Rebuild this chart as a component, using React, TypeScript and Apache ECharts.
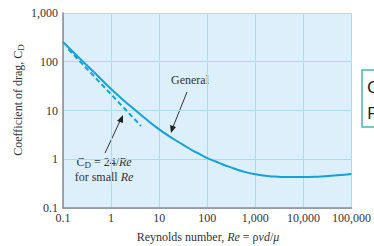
import React, { useEffect, useRef } from "react";
import * as echarts from "echarts";

const reValues = [0.1, 0.2, 0.5, 1, 2, 5, 10, 20, 30, 50, 70, 100, 150, 200, 300, 500, 1000, 2000, 5000, 10000, 20000, 50000, 100000];
const cdGeneral = [255, 130, 54, 27.5, 15, 7.0, 4.1, 2.6, 2.05, 1.5, 1.28, 1.05, 0.9, 0.8, 0.69, 0.58, 0.49, 0.45, 0.43, 0.43, 0.44, 0.47, 0.5];
const dashRe = [0.13, 4.2];
const dashCd = [180, 4.8];
const xTickLabels = ["0.1", "1", "10", "100", "1,000", "10,000", "100,000"];
const yTickLabels = ["0.1", "1", "10", "100", "1,000"];

const SERIF = "'Liberation Serif', 'DejaVu Serif', serif";
const BLUE = "#12a2dc";
const FS = 12;

export default function App() {
  const ref = useRef<HTMLDivElement>(null);
  useEffect(() => {
    if (!ref.current) return;
    const chart = echarts.init(ref.current, null, { renderer: "svg" });
    const idx = (v: number) => Math.round(Math.log10(v)) + 1;
    chart.setOption({
      animation: false,
      grid: {
        left: 63, top: 13, right: 20, bottom: 38,
        show: true, backgroundColor: "#ddeffb", borderWidth: 0,
      },
      xAxis: {
        type: "log", logBase: 10, min: 0.1, max: 100000,
        axisLine: { show: true, lineStyle: { color: "#8a8a8a", width: 1.5 } },
        axisTick: { show: false },
        axisLabel: {
          fontFamily: SERIF, fontSize: FS, color: "#333", margin: 4,
          formatter: (v: number) => xTickLabels[idx(v)] ?? "",
        },
        splitLine: { show: true, lineStyle: { color: "#acdaf2", width: 1 } },
      },
      yAxis: {
        type: "log", logBase: 10, min: 0.1, max: 1000,
        axisLine: { show: true, lineStyle: { color: "#8a8a8a", width: 1.5 } },
        axisTick: { show: false },
        axisLabel: {
          fontFamily: SERIF, fontSize: FS, color: "#333", margin: 5,
          formatter: (v: number) => yTickLabels[idx(v)] ?? "",
        },
        splitLine: { show: true, lineStyle: { color: "#acdaf2", width: 1 } },
      },
      series: [
        {
          type: "line", smooth: true, showSymbol: false,
          data: reValues.map((r, i) => [r, cdGeneral[i]]),
          lineStyle: { color: BLUE, width: 2 },
        },
        {
          type: "line", showSymbol: false,
          data: dashRe.map((r, i) => [r, dashCd[i]]),
          lineStyle: { color: BLUE, width: 2, type: [5, 3] },
        },
      ],
      graphic: [
        {
          type: "text", x: 18, y: 100, rotation: Math.PI / 2,
          style: {
            text: "Coefficient of drag, C{sub|D}",
            fontFamily: SERIF, fontSize: FS, fill: "#333",
            align: "center", verticalAlign: "middle",
            rich: { sub: { fontFamily: SERIF, fontSize: 9, fill: "#333", padding: [5, 0, 0, 0] } },
          },
        },
        {
          type: "text", x: 208, y: 237,
          style: {
            text: "Reynolds number, {i|Re} = ρ{i|vd}/{i|μ}",
            fontFamily: SERIF, fontSize: FS, fill: "#333",
            align: "center", verticalAlign: "middle",
            rich: { i: { fontFamily: SERIF, fontSize: FS, fontStyle: "italic", fill: "#333" } },
          },
        },
        {
          type: "text", x: 190, y: 80,
          style: { text: "General", fontFamily: SERIF, fontSize: FS, fill: "#333", align: "center", verticalAlign: "middle" },
        },
        { type: "line", shape: { x1: 187, y1: 92, x2: 173, y2: 127 }, style: { stroke: "#333", lineWidth: 1 } },
        { type: "polygon", shape: { points: [[171, 133], [170, 125], [176, 127]] }, style: { fill: "#222" } },
        {
          type: "text", x: 104, y: 162,
          style: {
            text: "C{sub|D} = 24/{i|Re}",
            fontFamily: SERIF, fontSize: FS, fill: "#333", align: "center", verticalAlign: "middle",
            rich: {
              sub: { fontFamily: SERIF, fontSize: 9, fill: "#333", padding: [5, 0, 0, 0] },
              i: { fontFamily: SERIF, fontSize: FS, fontStyle: "italic", fill: "#333" },
            },
          },
        },
        {
          type: "text", x: 104, y: 177,
          style: {
            text: "for small {i|Re}",
            fontFamily: SERIF, fontSize: FS, fill: "#333", align: "center", verticalAlign: "middle",
            rich: { i: { fontFamily: SERIF, fontSize: FS, fontStyle: "italic", fill: "#333" } },
          },
        },
        { type: "line", shape: { x1: 105, y1: 153, x2: 120, y2: 121 }, style: { stroke: "#333", lineWidth: 1 } },
        { type: "polygon", shape: { points: [[123, 115], [117, 121], [123, 123]] }, style: { fill: "#222" } },
        {
          type: "rect", shape: { x: 362, y: 70, width: 30, height: 57 },
          style: { fill: "#ffffff", stroke: "#4bb5ad", lineWidth: 1.5 },
        },
        { type: "text", x: 367, y: 86, style: { text: "C", fontFamily: "'Noto Sans', sans-serif", fontSize: 17, fill: "#222", verticalAlign: "middle" } },
        { type: "text", x: 367, y: 112, style: { text: "F", fontFamily: "'Noto Sans', sans-serif", fontSize: 17, fill: "#222", verticalAlign: "middle" } },
      ],
    });
    return () => chart.dispose();
  }, []);
  return <div ref={ref} style={{ width: 374, height: 246, position: "absolute", left: 0, top: 0 }} />;
}
